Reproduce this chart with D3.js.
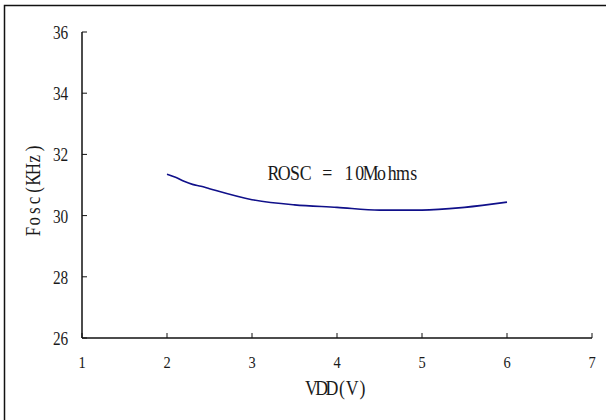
<!DOCTYPE html>
<html>
<head>
<meta charset="utf-8">
<title>Fosc vs VDD</title>
<script src="https://d3js.org/d3.v7.min.js"></script>
<style>
  body { margin: 0; background: #fff; }
  text { font-family: "Liberation Serif", serif; fill: #1a1a1a; }
</style>
</head>
<body>
<script>
// data
var vdd  = [2, 2.1, 2.2, 2.3, 2.4, 2.5, 3, 3.5, 4, 4.5, 5, 5.5, 6];
var fosc = [31.35, 31.25, 31.12, 31.02, 30.96, 30.88, 30.52, 30.35, 30.27, 30.18, 30.18, 30.27, 30.44];
var xTicks = [1, 2, 3, 4, 5, 6, 7];
var yTicks = [26, 28, 30, 32, 34, 36];
var xTitle = "VDD(V)";
var yTitle = "Fosc(KHz)";
var note = "ROSC = 10Mohms";

var W = 606, H = 420;
var svg = d3.select("body").append("svg")
  .attr("width", W).attr("height", H);

// frame: only top and left edges show
svg.append("path")
  .attr("d", "M4.5," + H + "V5.5H" + W)
  .attr("fill", "none").attr("stroke", "#111").attr("stroke-width", 1.5);

var x = d3.scaleLinear().domain([1, 7]).range([82, 592]);
var y = d3.scaleLinear().domain([26, 36]).range([338, 32]);

// fake the half-width CJK font: every char in a fixed cell, glyphs narrowed
// anchor: 0 = start, 0.5 = middle, 1 = end
function mono(parent, txt, size, cell, anchor, tr) {
  var sx = 0.85;
  var n = txt.length, off = -anchor * n * cell;
  var xs = d3.range(n).map(i => ((off + (i + 0.5) * cell) / sx).toFixed(2));
  return parent.append("text")
    .attr("transform", tr + " scale(" + sx + ",1)")
    .attr("x", xs.join(" "))
    .attr("text-anchor", "middle")
    .attr("font-size", size)
    .text(txt);
}

// axes
var ax = svg.append("g").attr("stroke", "#111").attr("stroke-width", 1.5);
ax.append("line").attr("x1", x(1)).attr("x2", x(7)).attr("y1", y(26)).attr("y2", y(26));
ax.append("line").attr("x1", x(1)).attr("x2", x(1)).attr("y1", y(26)).attr("y2", y(36));

ax.selectAll(".xt").data(xTicks).enter().append("line")
  .attr("x1", d => x(d)).attr("x2", d => x(d))
  .attr("y1", y(26)).attr("y2", y(26) - 5).attr("stroke-width", 1);
ax.selectAll(".yt").data(yTicks).enter().append("line")
  .attr("x1", x(1)).attr("x2", x(1) + 5)
  .attr("y1", d => y(d)).attr("y2", d => y(d)).attr("stroke-width", 1);

xTicks.forEach(function(d) {
  mono(svg, String(d), 17, 7.5, 0.5, "translate(" + x(d) + ",368)");
});
yTicks.forEach(function(d) {
  mono(svg, String(d), 18, 7.5, 1, "translate(68," + (y(d) + 7) + ")");
});

mono(svg, xTitle, 21, 10.2, 0.5, "translate(" + x(4) + ",395)");
mono(svg, yTitle, 20, 10.4, 0.5, "translate(40,190) rotate(-90)");
mono(svg, note, 21, 10.8, 0, "translate(268,180)");

// curve
var line = d3.line()
  .x((d, i) => x(vdd[i]))
  .y(d => y(d))
  .curve(d3.curveMonotoneX);

svg.append("path")
  .datum(fosc)
  .attr("d", line)
  .attr("fill", "none")
  .attr("stroke", "#10108a")
  .attr("stroke-width", 1.6);
</script>
</body>
</html>
